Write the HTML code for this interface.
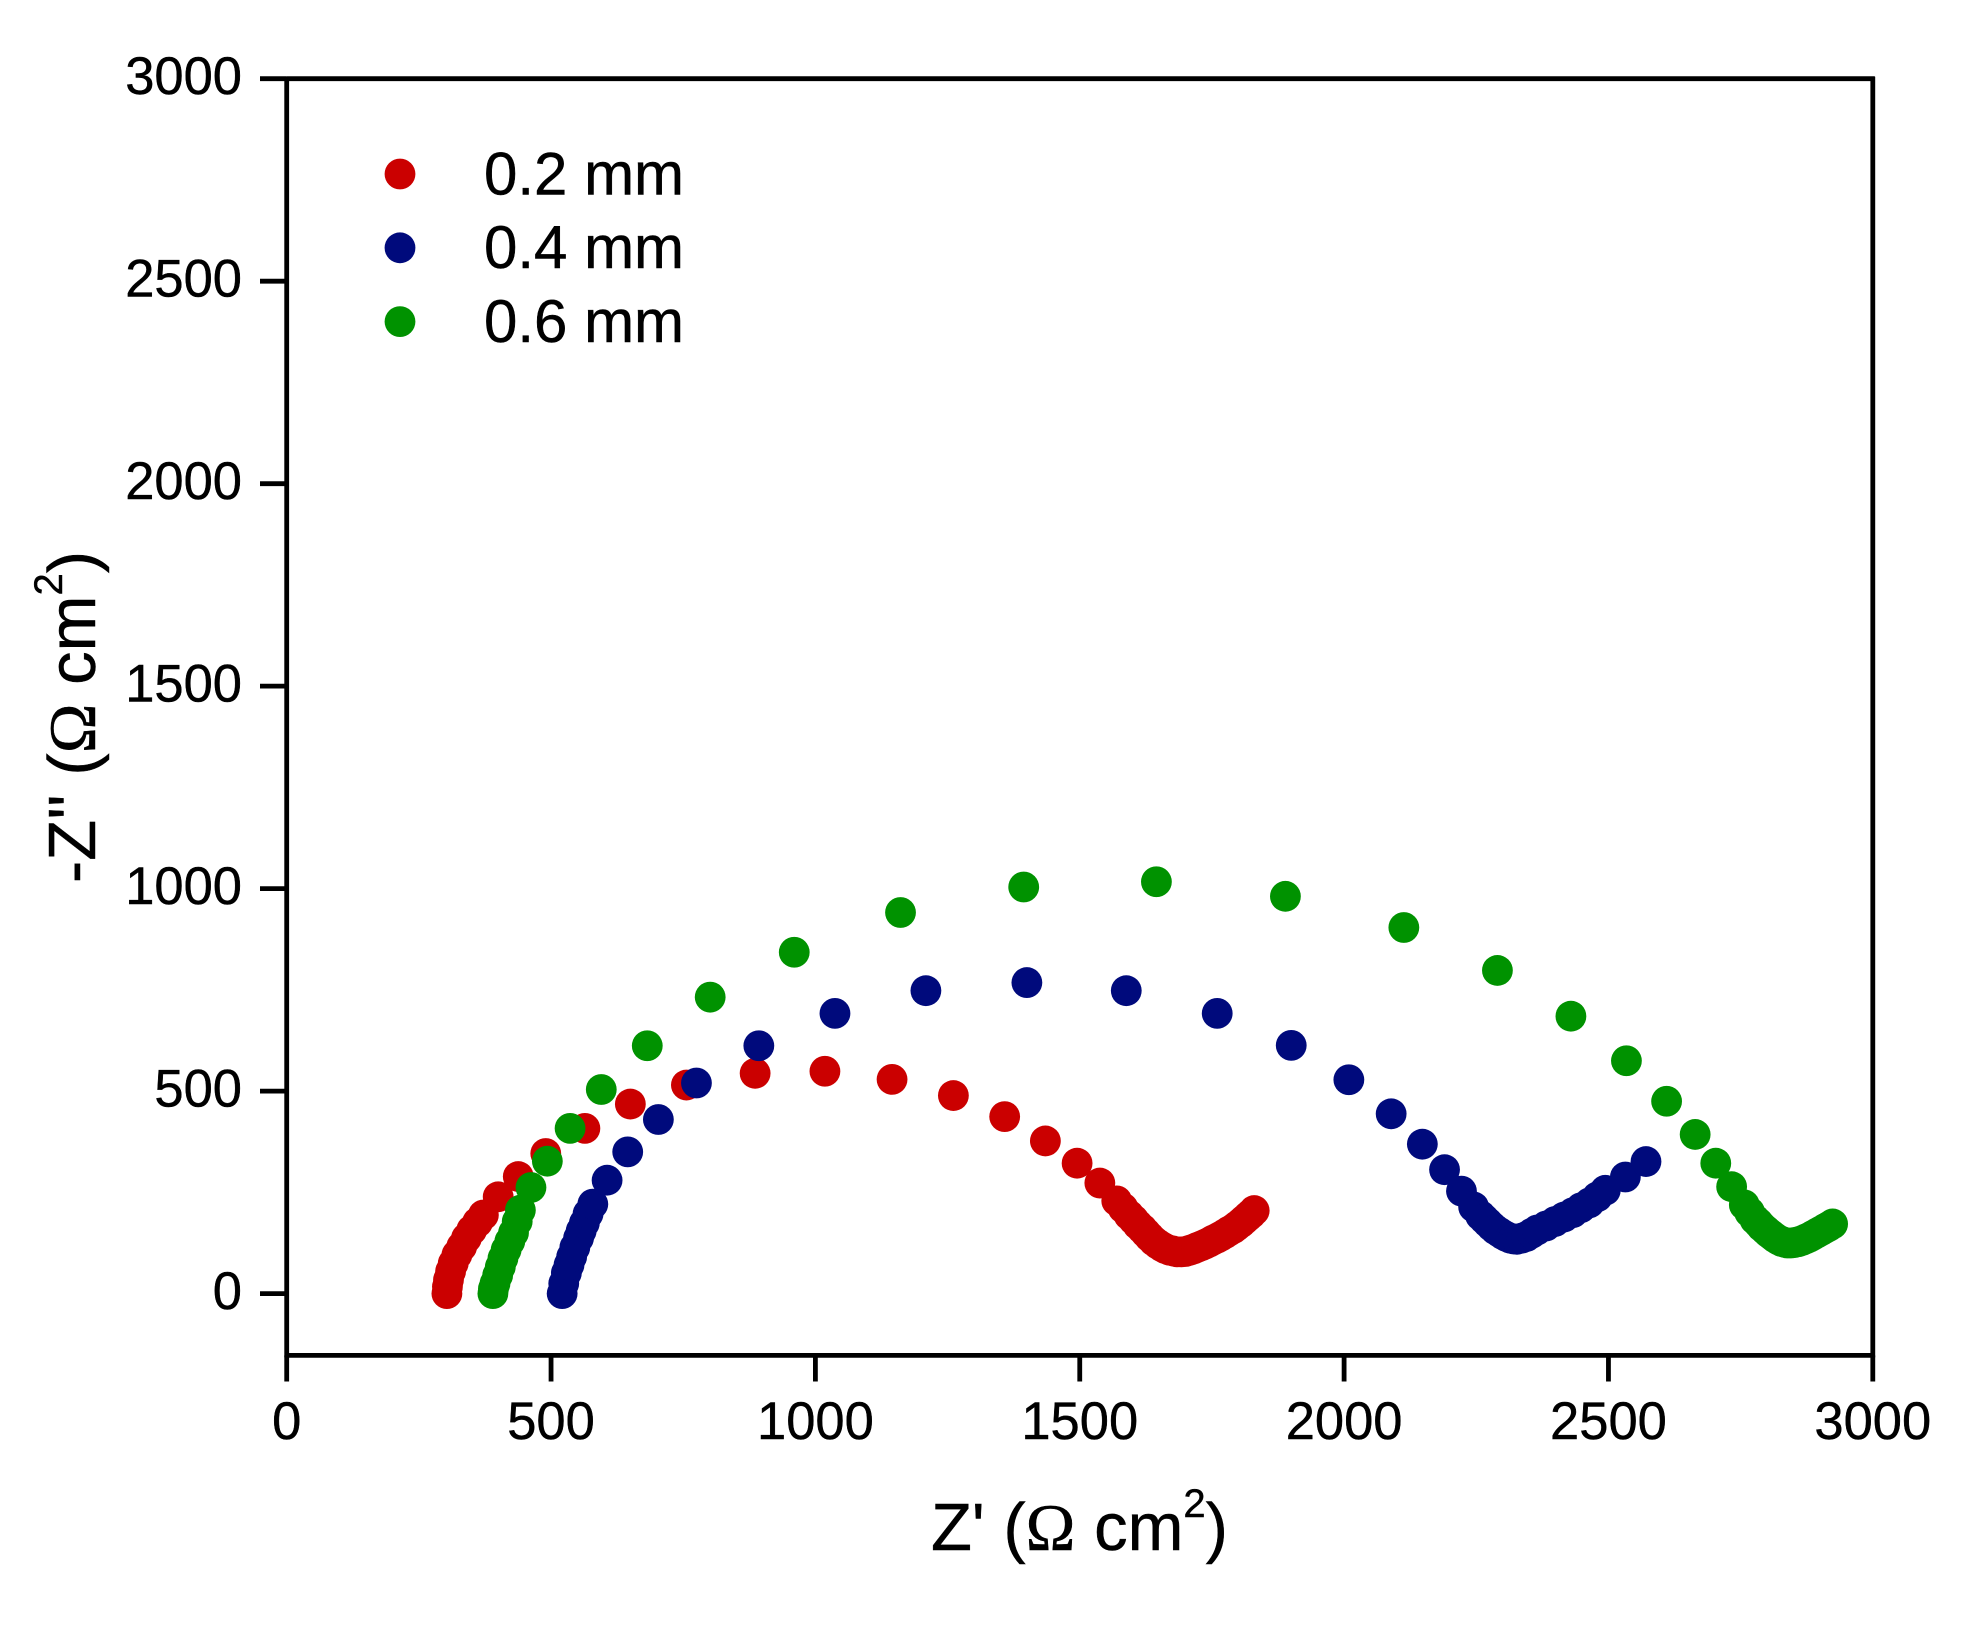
<!DOCTYPE html>
<html lang="en">
<head>
<meta charset="utf-8">
<title>Nyquist plot</title>
<style>
html,body{margin:0;padding:0;background:#fff;width:1965px;height:1630px;overflow:hidden}
svg{display:block}
text{font-family:"Liberation Sans",sans-serif;fill:#000;stroke:#000;stroke-width:0.45px}
</style>
</head>
<body>
<svg id="chart" xmlns="http://www.w3.org/2000/svg" width="1965" height="1630" viewBox="0 0 1965 1630">
  <rect x="0" y="0" width="1965" height="1630" fill="#fff"/>
  <g id="series"></g>
  <g id="axes"></g>
  <g id="legend"></g>
  <text x="931" y="1550" font-size="67">Z' (<tspan font-family="Liberation Serif" font-size="67">Ω</tspan> cm<tspan font-size="40" dy="-33">2</tspan><tspan dy="33">)</tspan></text>
  <text transform="translate(95 883) rotate(-90)" x="0" y="0" font-size="67">-Z'' (<tspan font-family="Liberation Serif" font-size="67">Ω</tspan> cm<tspan font-size="40" dy="-33">2</tspan><tspan dy="33">)</tspan></text>
</svg>
<script>
const xTicks = [0, 500, 1000, 1500, 2000, 2500, 3000];
const yTicks = [0, 500, 1000, 1500, 2000, 2500, 3000];
const seriesNames = ['0.2 mm', '0.4 mm', '0.6 mm'];

const redX = [303,304,306,310,315,322,331,340,350,361,372,400,438,490,564,650,756,886,1018,1145,1261,1358,1435,1495,1538,1570,1582,1593,1602,1610,1618,1625,1632,1640,1648,1655,1662,1670,1677,1684,1692,1700,1708,1715,1722,1730,1737,1745,1752,1760,1767,1775,1782,1790,1797,1805,1811,1818,1824,1830];
const redY = [0,17,34,55,75,96,116,137,157,176,194,239,289,346,408,468,515,544,549,529,489,437,377,322,273,229,211,194,182,170,160,150,140,130,122,116,111,107,105,103,103,104,107,110,114,118,122,127,132,137,142,148,154,160,167,175,182,190,197,205];

const blueX = [521,524,529,534,539,545,552,557,563,570,579,606,645,703,775,893,1037,1209,1400,1588,1760,1900,2009,2089,2148,2190,2222,2245,2258,2265,2272,2279,2286,2293,2300,2307,2314,2320,2327,2336,2345,2355,2365,2382,2399,2416,2433,2448,2464,2479,2494,2532,2571];
const blueY = [0,25,51,71,91,114,137,155,174,197,221,280,350,430,520,612,692,748,768,748,692,613,528,444,369,306,253,214,193,184,175,166,158,152,146,141,137,135,134,137,141,149,157,167,178,189,200,212,224,239,255,288,326];

const greenX = [390,391,394,399,404,409,415,422,429,436,442,462,493,536,595,682,801,960,1161,1394,1645,1889,2113,2290,2429,2534,2610,2664,2703,2733,2757,2767,2777,2784,2790,2797,2803,2809,2815,2821,2827,2832,2838,2845,2852,2859,2866,2873,2880,2887,2895,2902,2910,2917,2924];
const greenY = [0,12,25,45,66,87,108,129,150,178,206,262,327,408,504,612,732,843,941,1004,1017,981,904,798,685,575,475,393,322,264,219,201,183,174,165,157,150,144,138,133,129,127,125,125,126,128,131,135,139,144,150,155,161,166,172];

const SVG_NS = 'http://www.w3.org/2000/svg';
const plotLeft = 286.7, plotRight = 1872.8, plotTop = 78.7, plotBottom = 1355.4;
const yZeroPx = 1293.6;
const xUnit = (plotRight - plotLeft) / 3000;
const yUnit = (yZeroPx - plotTop) / 3000;
const markerR = 15.4;
const axisW = 4.8;

function xScale(v) { return plotLeft + v * xUnit; }
function yScale(v) { return yZeroPx - v * yUnit; }

function drawLine(parent, x1, y1, x2, y2, w) {
  const l = document.createElementNS(SVG_NS, 'line');
  l.setAttribute('x1', x1);
  l.setAttribute('y1', y1);
  l.setAttribute('x2', x2);
  l.setAttribute('y2', y2);
  l.setAttribute('stroke', '#000');
  l.setAttribute('stroke-width', w);
  parent.appendChild(l);
  return l;
}

function drawText(parent, x, y, size, anchor, str) {
  const t = document.createElementNS(SVG_NS, 'text');
  t.setAttribute('x', x);
  t.setAttribute('y', y);
  t.setAttribute('font-size', size);
  t.setAttribute('text-anchor', anchor);
  t.textContent = str;
  parent.appendChild(t);
  return t;
}

function drawSeries(xs, ys, color, name) {
  const g = document.createElementNS(SVG_NS, 'g');
  
  
  g.setAttribute('fill', color);
  xs.forEach(function (x, i) {
    const c = document.createElementNS(SVG_NS, 'circle');
    
    
    c.setAttribute('cx', xScale(x));
    c.setAttribute('cy', yScale(ys[i]));
    c.setAttribute('r', markerR);
    g.appendChild(c);
  });
  document.getElementById('series').appendChild(g);
}

drawSeries(redX, redY, '#cb0000', '0-2-mm');
drawSeries(blueX, blueY, '#000a7c', '0-4-mm');
drawSeries(greenX, greenY, '#009200', '0-6-mm');

const axes = document.getElementById('axes');
const frame = [
  [plotLeft, plotTop - 2, plotLeft, plotBottom + 2, axisW, 'left-axis'],
  [plotRight, plotTop - 2, plotRight, plotBottom + 2, axisW, 'right-axis'],
  [plotLeft, plotTop, plotRight + 2, plotTop, axisW, 'top-axis'],
  [plotLeft, plotBottom, plotRight + 2, plotBottom, axisW, 'bottom-axis']
];
frame.forEach(function (f) {
  const l = drawLine(axes, f[0], f[1], f[2], f[3], f[4]);
  
  
});
xTicks.forEach(function (v) {
  const px = xScale(v);
  const l = drawLine(axes, px, plotBottom, px, 1381.5, axisW);
  
  
  const t = drawText(axes, px, 1439, 52.5, 'middle', String(v));
  
  
});
yTicks.forEach(function (v) {
  const py = yScale(v);
  const l = drawLine(axes, 260, py, plotLeft, py, axisW);
  
  
  const t = drawText(axes, 242, py + 15.5, 52.5, 'end', String(v));
  
  
});

const legend = document.getElementById('legend');
const legendColors = ['#cb0000', '#000a7c', '#009200'];
seriesNames.forEach(function (name, i) {
  const cy = 174 + i * 73.8;
  const c = document.createElementNS(SVG_NS, 'circle');
  
  
  c.setAttribute('cx', 400);
  c.setAttribute('cy', cy);
  c.setAttribute('r', markerR);
  c.setAttribute('fill', legendColors[i]);
  legend.appendChild(c);
  const t = drawText(legend, 484, cy + 20.3, 60, 'start', name);
  
  
});
</script>
</body>
</html>
